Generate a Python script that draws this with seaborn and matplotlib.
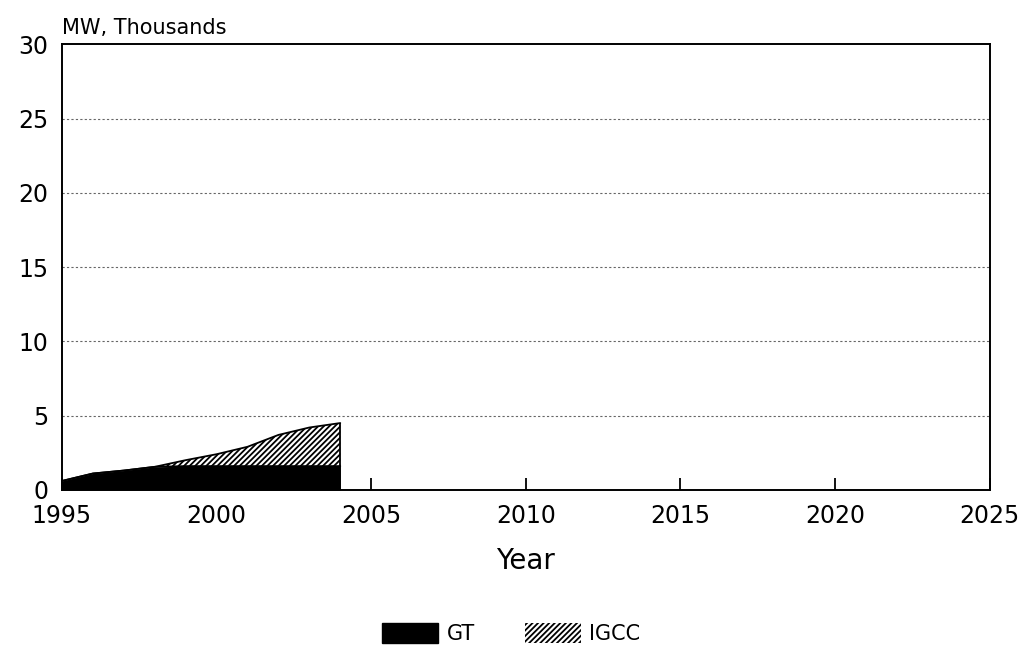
import matplotlib
matplotlib.use("Agg")
import matplotlib.pyplot as plt
from matplotlib.patches import Patch
import numpy as np
import pandas as pd
import seaborn as sns

# Installed capacity, thousands of MW
years = [1995, 1996, 1997, 1998, 1999, 2000, 2001, 2002, 2003, 2004]
gt = [0.6, 1.1, 1.3, 1.55, 1.6, 1.6, 1.6, 1.6, 1.6, 1.6]
igcc = [0.0, 0.0, 0.0, 0.0, 0.4, 0.8, 1.3, 2.1, 2.6, 2.9]

x_ticks = [1995, 2000, 2005, 2010, 2015, 2020, 2025]
y_ticks = [0, 5, 10, 15, 20, 25, 30]

sns.set_theme(style="white")
plt.rcParams["font.family"] = ["DejaVu Sans"]
plt.rcParams["hatch.linewidth"] = 1.3

df = pd.DataFrame({"Year": years, "GT": gt, "IGCC": igcc})
df["Total"] = df["GT"] + df["IGCC"]

fig = plt.figure(figsize=(10.33, 6.54), dpi=100)
ax = fig.add_axes([0.060, 0.251, 0.898, 0.681])

ax.fill_between(df["Year"], 0, df["GT"], color="black", linewidth=0, zorder=3)
ax.fill_between(df["Year"], df["GT"], df["Total"], facecolor="white",
                edgecolor="black", hatch="//////", linewidth=0, zorder=3)
sns.lineplot(data=df, x="Year", y="Total", color="black", linewidth=1.3, ax=ax, zorder=4)
sns.lineplot(data=df, x="Year", y="GT", color="black", linewidth=1.3, ax=ax, zorder=4)
ax.vlines(years[-1], 0, df["Total"].iloc[-1], color="black", linewidth=1.3, zorder=4)

ax.set_xlim(1995, 2025)
ax.set_ylim(0, 30)
ax.set_xticks(x_ticks)
ax.set_yticks(y_ticks)
ax.set_xticklabels([str(v) for v in x_ticks], fontsize=17)
ax.set_yticklabels([str(v) for v in y_ticks], fontsize=17)

for y in y_ticks[1:-1]:
    ax.axhline(y, color="#666666", linestyle=(0, (2, 2)), linewidth=0.8, zorder=1)

for side in ["left", "bottom", "right", "top"]:
    ax.spines[side].set_visible(True)
    ax.spines[side].set_color("black")
    ax.spines[side].set_linewidth(1.4)

ax.tick_params(axis="x", direction="in", length=9, width=1.3, colors="black",
               pad=10, bottom=True)
ax.tick_params(axis="y", length=0, pad=10, colors="black")

ax.set_xlabel("Year", fontsize=20, labelpad=14, color="black")
ax.set_ylabel("")
ax.text(0.0, 1.015, "MW, Thousands", transform=ax.transAxes, fontsize=15,
        ha="left", va="bottom", color="black")

handles = [Patch(facecolor="black", edgecolor="black", label="GT"),
           Patch(facecolor="white", edgecolor="black", hatch="//////", linewidth=0, label="IGCC")]
leg = fig.legend(handles=handles, loc="center", bbox_to_anchor=(0.495, 0.032), ncol=2,
                 frameon=False, fontsize=15, handlelength=2.7, handleheight=1.1,
                 columnspacing=2.4, handletextpad=0.4)
for t in leg.get_texts():
    t.set_color("black")

fig.savefig("out.png", dpi=100, facecolor="white")
